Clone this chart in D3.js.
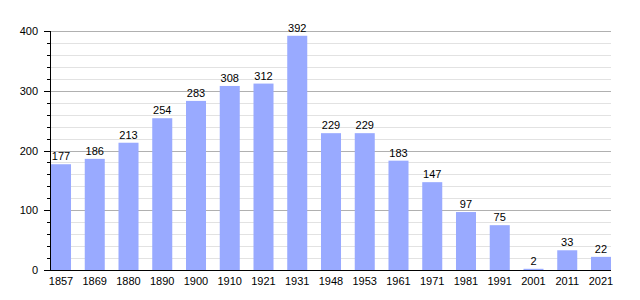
<!DOCTYPE html>
<html>
<head>
<meta charset="utf-8">
<script src="https://cdn.jsdelivr.net/npm/d3@7"></script>
<style>
  body { margin: 0; background: #fff; }
  text { font-family: "Liberation Sans", Arial, sans-serif; font-size: 11px; fill: #000; }
</style>
</head>
<body>
<div id="chart"></div>
<script>
const years = ["1857", "1869", "1880", "1890", "1900", "1910", "1921", "1931", "1948",
               "1953", "1961", "1971", "1981", "1991", "2001", "2011", "2021"];
const population = [177, 186, 213, 254, 283, 308, 312, 392, 229, 229, 183, 147, 97, 75, 2, 33, 22];
const majorTicks = [0, 100, 200, 300, 400];
const minorTicks = d3.range(0, 401, 20);

const W = 640, H = 300;
const margin = { top: 31, right: 29, bottom: 30, left: 50 };
const width = W - margin.left - margin.right;
const height = H - margin.top - margin.bottom;

const svg = d3.select('#chart').append('svg')
    .attr('width', W)
    .attr('height', H)
    .append('g')
    .attr('transform', `translate(${margin.left},${margin.top})`);

const x = d3.scaleBand().domain(years).range([1, width]).paddingInner(0.407).paddingOuter(0);
const y = d3.scaleLinear().domain([0, 400]).range([height, 0]);

// grid
svg.selectAll('.minor').data(minorTicks.filter(d => d % 100 !== 0))
    .enter().append('line')
    .attr('x1', 0).attr('x2', width)
    .attr('y1', d => Math.round(y(d)) + 0.5).attr('y2', d => Math.round(y(d)) + 0.5)
    .style('stroke', '#e2e2e2');

svg.selectAll('.major').data(majorTicks.filter(d => d > 0))
    .enter().append('line')
    .attr('x1', 0).attr('x2', width)
    .attr('y1', d => Math.round(y(d)) + 0.5).attr('y2', d => Math.round(y(d)) + 0.5)
    .style('stroke', '#b0b0b0');

// bars
svg.selectAll('.bar').data(population)
    .enter().append('rect')
    .attr('x', (d, i) => x(years[i]))
    .attr('y', d => y(d))
    .attr('width', x.bandwidth())
    .attr('height', d => height - y(d))
    .style('fill', '#99aaff');

// value labels
svg.selectAll('.val').data(population)
    .enter().append('text')
    .attr('x', (d, i) => x(years[i]) + x.bandwidth() / 2)
    .attr('y', d => y(d) - 4)
    .style('text-anchor', 'middle')
    .text(d => d);

// y axis
svg.selectAll('.ytickminor').data(minorTicks)
    .enter().append('line')
    .attr('x1', -3).attr('x2', 0)
    .attr('y1', d => Math.round(y(d)) + 0.5).attr('y2', d => Math.round(y(d)) + 0.5)
    .style('stroke', '#000');

svg.selectAll('.ytick').data(majorTicks)
    .enter().append('line')
    .attr('x1', -6).attr('x2', 0)
    .attr('y1', d => Math.round(y(d)) + 0.5).attr('y2', d => Math.round(y(d)) + 0.5)
    .style('stroke', '#000');

svg.selectAll('.ylab').data(majorTicks)
    .enter().append('text')
    .attr('x', -12)
    .attr('y', d => y(d) + 4)
    .style('text-anchor', 'end')
    .text(d => d);

svg.append('line')
    .attr('x1', 0.5).attr('x2', 0.5).attr('y1', 0).attr('y2', height)
    .style('stroke', '#000');

// x axis
svg.append('line')
    .attr('x1', 0).attr('x2', width).attr('y1', height + 0.5).attr('y2', height + 0.5)
    .style('stroke', '#000');

svg.selectAll('.xlab').data(years)
    .enter().append('text')
    .attr('x', d => x(d) + x.bandwidth() / 2)
    .attr('y', height + 15)
    .style('text-anchor', 'middle')
    .text(d => d);
</script>
</body>
</html>
